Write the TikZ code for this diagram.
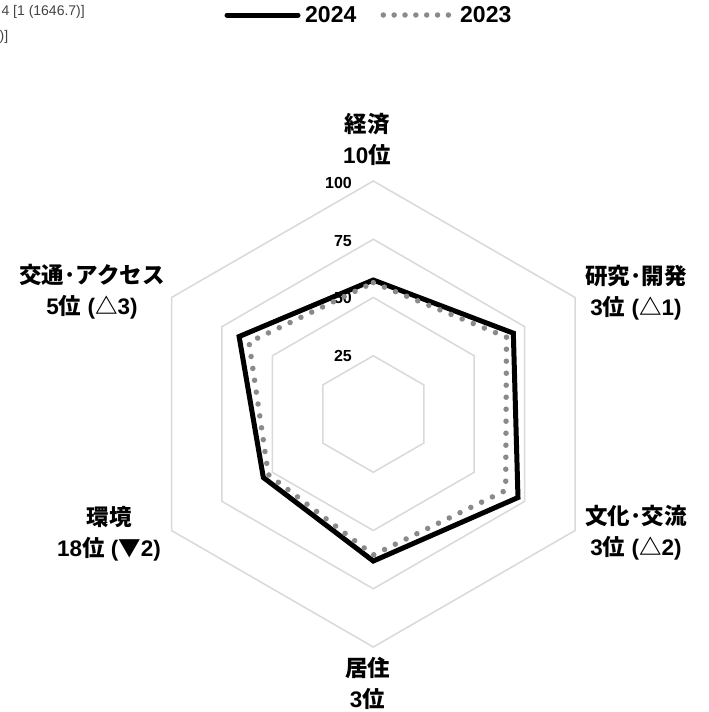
\documentclass[tikz,border=0pt]{standalone}
\usepackage{fontspec}
\setmainfont{Liberation Sans}
\newfontfamily\cjk{Noto Sans CJK JP}
\definecolor{gridgray}{HTML}{D9D9D9}
\definecolor{dotgray}{HTML}{8A8A8A}
\definecolor{textgray}{HTML}{444444}
\newcommand{\mdot}{{\cjk ･}}
\begin{document}
\begin{tikzpicture}[x=1pt,y=-1pt,
  grid/.style={draw=gridgray,line width=1.5pt},
  sline/.style={draw=black,line width=5pt,line join=miter},
  dline/.style={draw=dotgray,line width=5.5pt,line cap=round,dash pattern=on 0pt off 12pt},
  cat/.style={font=\fontsize{22.5}{31}\selectfont\bfseries,align=center,inner sep=0pt},
  tick/.style={font=\fontsize{16}{18}\selectfont\bfseries,anchor=east,inner sep=0pt},
  leg/.style={font=\fontsize{23}{25}\selectfont\bfseries,anchor=west,inner sep=0pt},
  clip/.style={font=\fontsize{14}{16}\selectfont,text=textgray,anchor=east,inner sep=0pt}]

\useasboundingbox[fill=white] (0,0) rectangle (709,712);

% clipped header text
\node[clip] (h1) at (85,12) {4 [1 (1646.7)]};
\node[clip] (h2) at (8.5,37) {0)]};

% legend
\coordinate (la) at (227,15);
\coordinate (lb) at (298,15);
\draw[black,line width=5pt,line cap=round] (la) -- (lb);
\node[leg] (t2024) at (305,15) {2024};
\coordinate (lc) at (383.3,15);
\coordinate (ld) at (448.5,15);
\draw[dotgray,line width=5.5pt,line cap=round,dash pattern=on 0pt off 10.85pt] (lc) -- (ld);
\node[leg] (t2023) at (460,15) {2023};

% grid
\coordinate (C) at (373.3,414);
\foreach \l in {25,50,75,100}{
  \pgfmathsetmacro\r{2.33*\l}
  \draw[grid,shift={(C)}] (-90:\r) -- (-30:\r) -- (30:\r) -- (90:\r) -- (150:\r) -- (210:\r) -- cycle;
}

% tick labels
\node[tick] (v100) at (352,183) {100};
\node[tick] (v75) at (352,241) {75};
\node[tick] (v50) at (352,298) {50};
\node[tick] (v25) at (352,356) {25};

% data points
\foreach \n/\a/\v in {a1/-90/57.5, a2/-30/69.4, a3/30/71.7, a4/90/63.1, a5/150/54.5, a6/210/66.5,
                      b1/-90/56.4, b2/-30/66.0, b3/30/65.6, b4/90/60.5, b5/150/52.0, b6/210/61.6}{
  \path (C) ++(\a:{2.33*\v}) coordinate (\n);
}
\draw[sline] (a1) -- (a2) -- (a3) -- (a4) -- (a5) -- (a6) -- cycle;
\draw[dline] (b1) -- (b2) -- (b3) -- (b4) -- (b5) -- (b6) -- cycle;

% category labels
\node[cat] (k1) at (367,139.5) {{\cjk 経済}\\10{\cjk 位}};
\node[cat] (k2) at (636,292.5) {{\cjk 研究}\mdot{\cjk 開発}\\3{\cjk 位} ({\cjk △}1)};
\node[cat] (k3) at (636,533) {{\cjk 文化}\mdot{\cjk 交流}\\3{\cjk 位} ({\cjk △}2)};
\node[cat] (k4) at (367.5,683.5) {{\cjk 居住}\\3{\cjk 位}};
\node[cat] (k5) at (109,533.5) {{\cjk 環境}\\18{\cjk 位} ({\cjk ▼}2)};
\node[cat] (k6) at (92,291.5) {{\cjk 交通}\mdot{\cjk アクセス}\\5{\cjk 位} ({\cjk △}3)};
\end{tikzpicture}
\end{document}
